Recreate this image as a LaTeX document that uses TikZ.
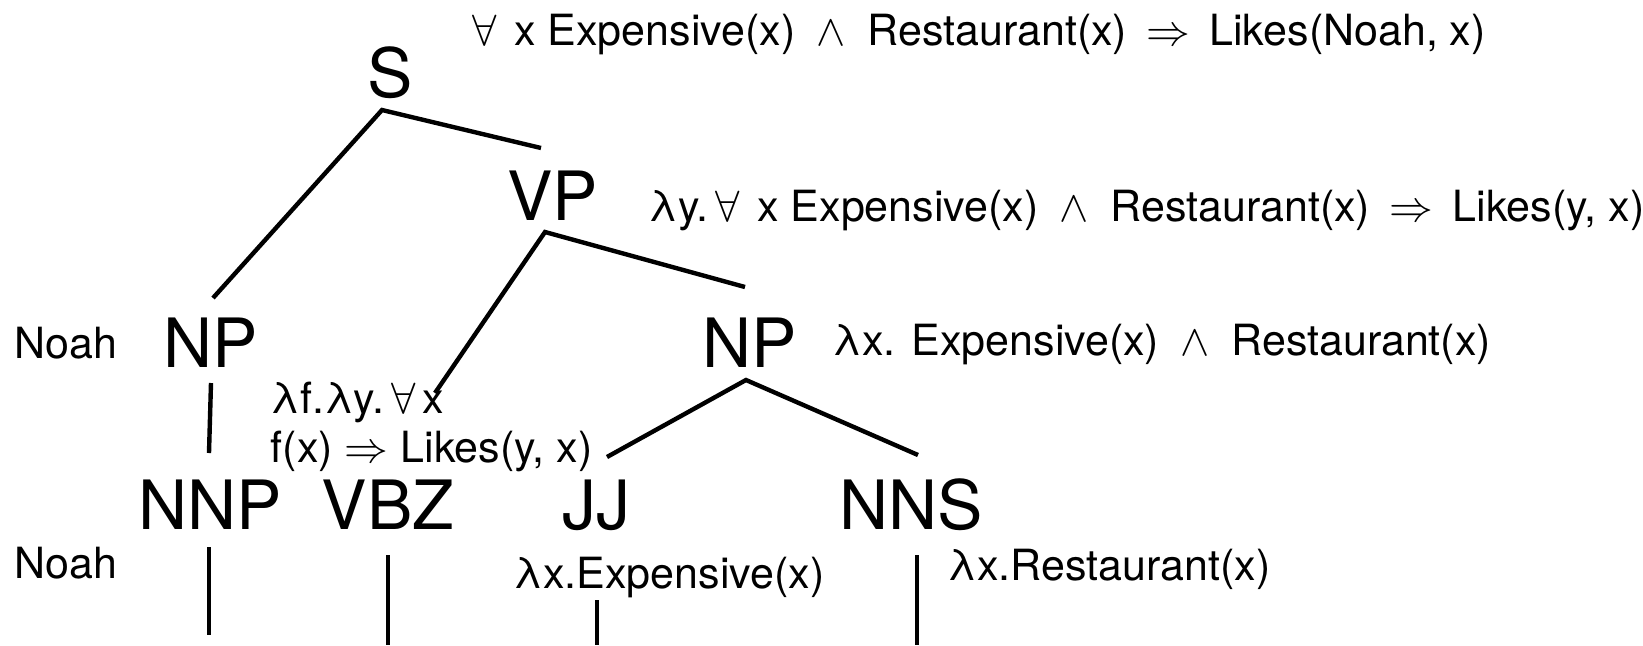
\documentclass[tikz,border=0pt]{standalone}
\usepackage{fontspec}
\setmainfont{TeX Gyre Heros}
\newcommand{\allx}{$\forall$\hspace{0.4em}x}
\newcommand{\impl}{\ $\,\Rightarrow\,$\ }
\newcommand{\conj}{\enspace$\wedge$\enspace}
\begin{document}
\begin{tikzpicture}[x=0.25pt,y=-0.25pt,
  cat/.style={inner sep=0pt, anchor=base, font=\fontsize{17}{20}\selectfont},
  sem/.style={inner sep=0pt, anchor=base west, align=left,
              font=\fontsize{10.75}{12.25}\selectfont},
  branch/.style={line width=1.1pt, line join=miter}]
\useasboundingbox (0,0) rectangle (1643,645);

% syntactic categories
\node[cat] (S)   at (390,97)  {S};
\node[cat] (VP)  at (553,220) {VP};
\node[cat] (NPl) at (211,367) {NP};
\node[cat] (NPr) at (750,367) {NP};
\node[cat] (NNP) at (210,529) {NNP};
\node[cat] (VBZ) at (388,529) {VBZ};
\node[cat] (JJ)  at (596,529) {JJ};
\node[cat] (NNS) at (911,529) {NNS};

% semantic annotations (a two-line node sits on the baseline of its last line)
\node[sem] (semS)   at (472,45)  {\allx{} Expensive(x)\conj Restaurant(x)\impl Likes(Noah, x)};
\node[sem] (semVP)  at (648,221) {λy.\,\allx{} Expensive(x)\conj Restaurant(x)\impl Likes(y, x)};
\node[sem] (semNPr) at (832,355) {λx. Expensive(x)\conj Restaurant(x)};
\node[sem] (semNPl) at (14,358)  {Noah};
\node[sem] (semVBZ) at (270,462) {λf.λy.\,$\forall$\,x\\f(x) $\Rightarrow$ Likes(y, x)};
\node[sem] (semNNP) at (14,578)  {Noah};
\node[sem] (semJJ)  at (513,588) {λx.Expensive(x)};
\node[sem] (semNNS) at (947,580) {λx.Restaurant(x)};

% branch end points
\coordinate (s-root)   at (382,110);
\coordinate (s-np)     at (213,298);
\coordinate (s-vp)     at (541,148);
\coordinate (vp-root)  at (545,232);
\coordinate (vp-vbz)   at (435,393);
\coordinate (vp-np)    at (745,287);
\coordinate (npl-root) at (211,383);
\coordinate (npl-nnp)  at (209,453);
\coordinate (npr-root) at (746,380);
\coordinate (npr-jj)   at (607,457);
\coordinate (npr-nns)  at (918,455);
\coordinate (nnp-top)  at (209,547);
\coordinate (nnp-end)  at (209,635);
\coordinate (vbz-top)  at (388,555);
\coordinate (vbz-end)  at (388,645);
\coordinate (jj-top)   at (597,600);
\coordinate (jj-end)   at (597,645);
\coordinate (nns-top)  at (917,555);
\coordinate (nns-end)  at (917,645);

% branches
\draw[branch] (s-np) -- (s-root) -- (s-vp);
\draw[branch] (vp-vbz) -- (vp-root) -- (vp-np);
\draw[branch] (npl-root) -- (npl-nnp);
\draw[branch] (npr-jj) -- (npr-root) -- (npr-nns);
\draw[branch] (nnp-top) -- (nnp-end);
\draw[branch] (vbz-top) -- (vbz-end);
\draw[branch] (jj-top) -- (jj-end);
\draw[branch] (nns-top) -- (nns-end);
\end{tikzpicture}
\end{document}
